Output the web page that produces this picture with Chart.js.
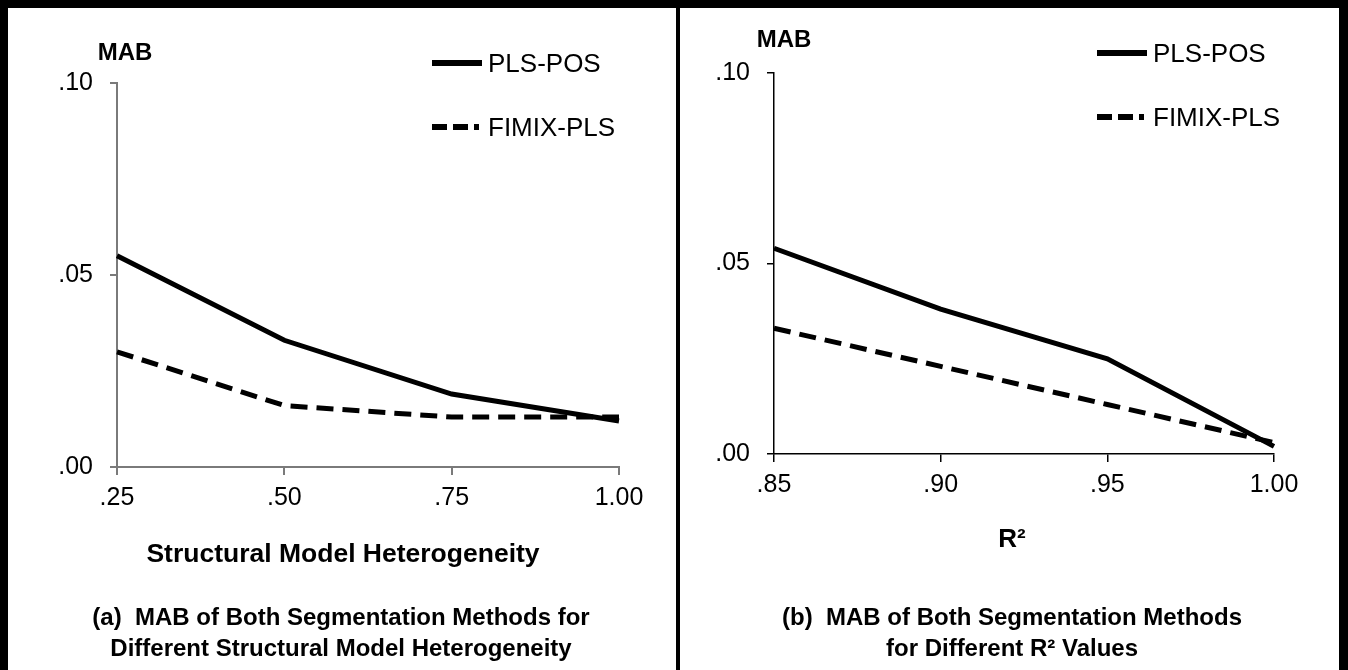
<!DOCTYPE html>
<html>
<head>
<meta charset="utf-8">
<script src="https://cdn.jsdelivr.net/npm/chart.js@4.4.1/dist/chart.umd.min.js"></script>
<style>
    body { margin: 0; width: 1348px; height: 670px; overflow: hidden; background: #fff; font-family: "Liberation Sans", Arial, sans-serif; }
    #frame { position: absolute; left: 0; top: 0; width: 1348px; height: 700px; box-sizing: border-box; border: 8px solid #000; border-right-width: 9px; }
    #divider { position: absolute; left: 676px; top: 0; width: 4px; height: 670px; background: #000; }
    canvas { position: absolute; top: 0; }
    .txt { position: absolute; transform: translate(-50%, -50%); white-space: pre; color: #000; }
    .bold { font-weight: bold; }
    .legend { position: absolute; font-size: 26px; color: #000; }
    .legend div { display: flex; align-items: center; height: 30px; position: absolute; left: 0; white-space: nowrap; }
</style>
</head>
<body>
<div id="frame"></div>
<div id="divider"></div>

<canvas id="chartA" width="676" height="670" style="left:0px"></canvas>
<canvas id="chartB" width="668" height="670" style="left:680px"></canvas>

<div class="txt bold" style="left:125px; top:52px; font-size:24px">MAB</div>
<div class="txt bold" style="left:784px; top:39px; font-size:24px">MAB</div>

<div class="legend" id="legendA" style="left:432px; top:48px"></div>
<div class="legend" id="legendB" style="left:1097px; top:38px"></div>

<div class="txt bold" style="left:343px; top:553px; font-size:26.5px">Structural Model Heterogeneity</div>
<div class="txt bold" style="left:1012px; top:538px; font-size:26px">R²</div>

<div class="txt bold" style="left:341px; top:617px; font-size:24px">(a)  MAB of Both Segmentation Methods for</div>
<div class="txt bold" style="left:341px; top:648px; font-size:24px">Different Structural Model Heterogeneity</div>
<div class="txt bold" style="left:1012px; top:617px; font-size:24px">(b)  MAB of Both Segmentation Methods</div>
<div class="txt bold" style="left:1012px; top:648px; font-size:24px">for Different R² Values</div>

<script>
// Series names
const seriesNames = ["PLS-POS", "FIMIX-PLS"];

// Panel (a): structural model heterogeneity
const heteroLabels = [".25", ".50", ".75", "1.00"];
const heteroPlsPos = [0.055, 0.033, 0.019, 0.012];
const heteroFimix = [0.030, 0.016, 0.013, 0.013];

// Panel (b): R² values
const r2Labels = [".85", ".90", ".95", "1.00"];
const r2PlsPos = [0.054, 0.038, 0.025, 0.002];
const r2Fimix = [0.033, 0.023, 0.013, 0.003];

// Y axis ticks
const yTickValues = [0, 0.05, 0.10];
const yTickLabels = [".00", ".05", ".10"];

const dashPattern = [17, 9];

Chart.defaults.font.family = "'Liberation Sans', Arial, sans-serif";
Chart.defaults.color = "#000";

function makeChart(canvasId, labels, plsPos, fimix, box) {
    const ctx = document.getElementById(canvasId);

    const config = {
        type: "line",
        data: {
            labels: labels,
            datasets: [
                {
                    label: seriesNames[0],
                    data: plsPos,
                    borderColor: "#000",
                    borderWidth: 5,
                    pointRadius: 0,
                    tension: 0
                },
                {
                    label: seriesNames[1],
                    data: fimix,
                    borderColor: "#000",
                    borderWidth: 5,
                    borderDash: dashPattern,
                    pointRadius: 0,
                    tension: 0
                }
            ]
        },
        options: {
            responsive: false,
            animation: false,
            devicePixelRatio: 1,
            layout: {
                padding: { left: 0, right: box.right, top: box.top, bottom: 0 }
            },
            plugins: {
                legend: { display: false },
                tooltip: { enabled: false }
            },
            scales: {
                x: {
                    offset: false,
                    grid: { display: true, drawOnChartArea: false, drawTicks: true, tickLength: 8, color: box.axisColor, lineWidth: box.axisWidth },
                    border: { display: true, color: box.axisColor, width: box.axisWidth },
                    ticks: { font: { size: 25 }, padding: 8, maxRotation: 0, color: "#000" },
                    afterFit: function(scale) { scale.height = box.xHeight; }
                },
                y: {
                    min: 0,
                    max: 0.10,
                    afterBuildTicks: function(scale) {
                        scale.ticks = yTickValues.map(v => ({ value: v }));
                    },
                    grid: { display: true, drawOnChartArea: false, drawTicks: true, tickLength: 7, color: box.axisColor, lineWidth: box.axisWidth },
                    border: { display: true, color: box.axisColor, width: box.axisWidth },
                    ticks: {
                        font: { size: 25 },
                        padding: 17,
                        color: "#000",
                        callback: function(value) {
                            let i = yTickValues.findIndex(v => Math.abs(v - value) < 1e-9);
                            return i >= 0 ? yTickLabels[i] : "";
                        }
                    },
                    afterFit: function(scale) { scale.width = box.yWidth; }
                }
            }
        }
    };

    return new Chart(ctx, config);
}

// Build the little legend next to each chart
function buildLegend(elementId, gap) {
    let html = "";
    seriesNames.forEach(function(name, i) {
        let line = i == 1
            ? '<line x1="0" y1="5" x2="47" y2="5" stroke="#000" stroke-width="6" stroke-dasharray="15 6"/>'
            : '<line x1="0" y1="5" x2="50" y2="5" stroke="#000" stroke-width="6"/>';
        html += '<div style="top:' + (i * gap) + 'px">' +
            '<svg width="56" height="10">' + line + '</svg>' +
            '<span>' + name + '</span></div>';
    });
    document.getElementById(elementId).innerHTML = html;
}

makeChart("chartA", heteroLabels, heteroPlsPos, heteroFimix,
    { yWidth: 117, right: 57, top: 83, xHeight: 670 - 467, axisColor: "#7a7a7a", axisWidth: 2 });
makeChart("chartB", r2Labels, r2PlsPos, r2Fimix,
    { yWidth: 94, right: 74, top: 73, xHeight: 670 - 454, axisColor: "#000", axisWidth: 1.5 });

buildLegend("legendA", 64);
buildLegend("legendB", 64);
</script>
</body>
</html>
